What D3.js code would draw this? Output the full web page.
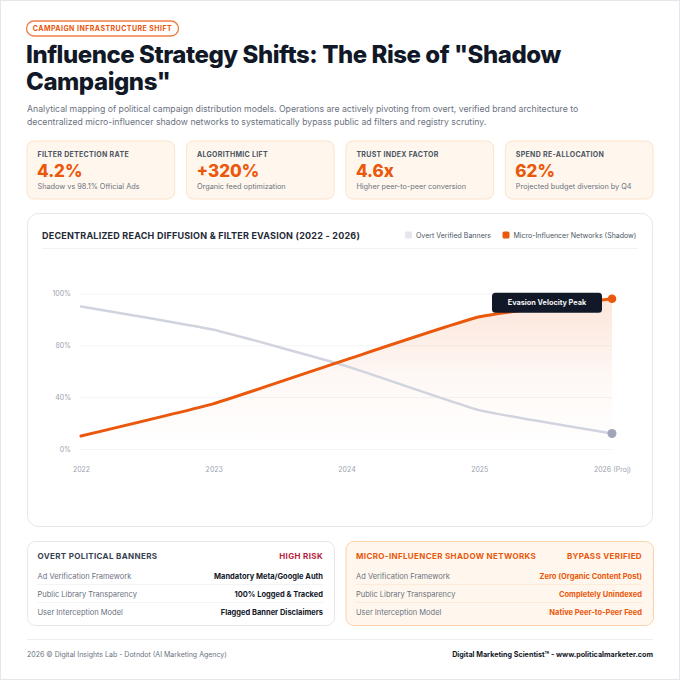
<!DOCTYPE html>
<html>
<head>
<meta charset="utf-8">
<script src="https://cdn.jsdelivr.net/npm/d3@7"></script>
<style>
  html, body { margin: 0; padding: 0; background: #ffffff; }
  svg { display: block; font-family: Inter, "Noto Sans", sans-serif; }
</style>
</head>
<body>
<svg id="chart" width="680" height="680"></svg>
<script>
// ---------- DATA ----------
const years = ["2022", "2023", "2024", "2025", "2026 (Proj)"];
const overtValues = [95, 86, 64, 30, 12];
const shadowValues = [10, 35, 69, 91, 98];
const yTickValues = [0, 40, 80, 100];
const seriesNames = ["Overt Verified Banners", "Micro-Influencer Networks (Shadow)"];

const kpiLabels = ["FILTER DETECTION RATE", "ALGORITHMIC LIFT", "TRUST INDEX FACTOR", "SPEND RE-ALLOCATION"];
const kpiValues = ["4.2%", "+320%", "4.6x", "62%"];
const kpiNotes = ["Shadow vs 98.1% Official Ads", "Organic feed optimization", "Higher peer-to-peer conversion", "Projected budget diversion by Q4"];

const rowLabels = ["Ad Verification Framework", "Public Library Transparency", "User Interception Model"];
const overtRows = ["Mandatory Meta/Google Auth", "100% Logged & Tracked", "Flagged Banner Disclaimers"];
const shadowRows = ["Zero (Organic Content Post)", "Completely Unindexed", "Native Peer-to-Peer Feed"];

// ---------- STYLE ----------
const ORANGE = "#ea580c";
const DARK = "#111827";
const svg = d3.select("#chart");

svg.append("rect").attr("x", 0.5).attr("y", 0.5).attr("width", 679).attr("height", 679)
  .attr("fill", "#ffffff").attr("stroke", "#e5e7eb");

// ---------- HEADER ----------
svg.append("rect").attr("x", 26.5).attr("y", 21).attr("width", 152).attr("height", 15).attr("rx", 7.5)
  .attr("fill", "#fff").attr("stroke", "#ef7d45").attr("stroke-width", 1.3);
svg.append("text").attr("x", 102.5).attr("y", 31.4).attr("text-anchor", "middle")
  .attr("font-size", 7).attr("font-weight", 700).attr("letter-spacing", 0.45).attr("fill", ORANGE)
  .text("CAMPAIGN INFRASTRUCTURE SHIFT");

svg.append("text").attr("x", 26).attr("y", 63.3).attr("font-size", 24).attr("font-weight", 800)
  .attr("fill", DARK).attr("letter-spacing", -0.45)
  .text('Influence Strategy Shifts: The Rise of "Shadow');
svg.append("text").attr("x", 26).attr("y", 89.8).attr("font-size", 24).attr("font-weight", 800)
  .attr("fill", DARK).attr("letter-spacing", -0.45)
  .text('Campaigns"');

const sub = svg.append("text").attr("font-size", 8.7).attr("fill", "#6b7280");
sub.append("tspan").attr("x", 27).attr("y", 111.5).text("Analytical mapping of political campaign distribution models. Operations are actively pivoting from overt, verified brand architecture to");
sub.append("tspan").attr("x", 27).attr("y", 124.5).text("decentralized micro-influencer shadow networks to systematically bypass public ad filters and registry scrutiny.");

// ---------- KPI CARDS ----------
const kpiX = d3.scaleBand().domain(d3.range(kpiLabels.length)).range([27, 653]).paddingInner(0.074);
kpiLabels.forEach((lab, i) => {
  const g = svg.append("g").attr("transform", `translate(${kpiX(i)},141)`);
  g.append("rect").attr("x", 0).attr("y", 0).attr("width", kpiX.bandwidth()).attr("height", 58).attr("rx", 7)
    .attr("fill", "#fff7ed").attr("stroke", "#fde3c8").attr("stroke-width", 1);
  g.append("text").attr("x", 10.5).attr("y", 16.3).attr("font-size", 7).attr("font-weight", 700)
    .attr("letter-spacing", 0.3).attr("fill", "#4b5563").text(lab);
  g.append("text").attr("x", 10).attr("y", 35.7).attr("font-size", 17).attr("font-weight", 800)
    .attr("fill", ORANGE).text(kpiValues[i]);
  g.append("text").attr("x", 10.5).attr("y", 47.8).attr("font-size", 7.3).attr("fill", "#6b7280").text(kpiNotes[i]);
});

// ---------- CHART CARD ----------
svg.append("rect").attr("x", 27.5).attr("y", 213.5).attr("width", 625).attr("height", 313).attr("rx", 11)
  .attr("fill", "#fff").attr("stroke", "#e5e7eb");
svg.append("text").attr("x", 42).attr("y", 238.5).attr("font-size", 9).attr("font-weight", 700)
  .attr("letter-spacing", 0.22).attr("fill", "#1f2937")
  .text("DECENTRALIZED REACH DIFFUSION & FILTER EVASION (2022 - 2026)");
svg.append("line").attr("x1", 42).attr("x2", 638).attr("y1", 248.5).attr("y2", 248.5)
  .attr("stroke", "#f1f2f4");

// legend
const legendColors = ["#e5e7eb", ORANGE];
const legendX = [405, 502.5];
seriesNames.forEach((n, i) => {
  svg.append("rect").attr("x", legendX[i]).attr("y", 231.5).attr("width", 7).attr("height", 7).attr("rx", 1.5)
    .attr("fill", legendColors[i]);
  svg.append("text").attr("x", legendX[i] + 11).attr("y", 237.8).attr("font-size", 7)
    .attr("fill", "#4b5563").text(n);
});

// scales
const plotLeft = 81, plotRight = 612, plotTop = 293.5, plotBottom = 449;
const x = d3.scalePoint().domain(years).range([plotLeft, plotRight]);
const y = d3.scaleLinear().domain(yTickValues)
  .range(yTickValues.map((d, i) => plotBottom - i * (plotBottom - plotTop) / (yTickValues.length - 1)));

// grid
const yAxis = d3.axisLeft(y).tickValues(yTickValues).tickFormat(d => d + "%")
  .tickSize(-(plotRight - plotLeft)).tickPadding(10);
const yg = svg.append("g").attr("transform", `translate(${plotLeft},0)`).call(yAxis);
yg.select(".domain").remove();
yg.selectAll(".tick line").attr("stroke", "#f3f4f6");
yg.selectAll(".tick text").attr("font-size", 7).attr("fill", "#9ca3af").attr("font-family", "Inter").attr("dy", "0.32em");

const xAxis = d3.axisBottom(x).tickSize(0).tickPadding(0);
const xg = svg.append("g").attr("transform", `translate(0,${471.5})`).call(xAxis);
xg.select(".domain").remove();
xg.selectAll(".tick text").attr("font-size", 7).attr("fill", "#9ca3af").attr("font-family", "Inter").attr("dy", 0);

// gradient
const defs = svg.append("defs");
const grad = defs.append("linearGradient").attr("id", "shadowFill").attr("gradientUnits", "userSpaceOnUse")
  .attr("x1", 0).attr("x2", 0).attr("y1", plotTop).attr("y2", plotBottom);
grad.append("stop").attr("offset", 0).attr("stop-color", ORANGE).attr("stop-opacity", 0.16);
grad.append("stop").attr("offset", 0.55).attr("stop-color", ORANGE).attr("stop-opacity", 0.04);
grad.append("stop").attr("offset", 1).attr("stop-color", ORANGE).attr("stop-opacity", 0);

const curve = d3.curveCardinal.tension(0.65);
const area = d3.area().x((d, i) => x(years[i])).y0(plotBottom).y1(d => y(d)).curve(curve);
const line = d3.line().x((d, i) => x(years[i])).y(d => y(d)).curve(curve);

svg.append("path").datum(shadowValues).attr("d", area).attr("fill", "url(#shadowFill)");
svg.append("path").datum(overtValues).attr("d", line).attr("fill", "none")
  .attr("stroke", "#d1d3de").attr("stroke-width", 2.4).attr("stroke-linecap", "round");
svg.append("path").datum(shadowValues).attr("d", line).attr("fill", "none")
  .attr("stroke", ORANGE).attr("stroke-width", 3).attr("stroke-linecap", "round");

const last = years.length - 1;
svg.append("circle").attr("cx", x(years[last])).attr("cy", y(overtValues[last])).attr("r", 4.5).attr("fill", "#a3a5b8");
svg.append("circle").attr("cx", x(years[last])).attr("cy", y(shadowValues[last])).attr("r", 4.3).attr("fill", ORANGE);

// annotation
const ax = x(years[last]), ay = y(shadowValues[last]);
svg.append("rect").attr("x", ax - 120).attr("y", ay - 6).attr("width", 110).attr("height", 20).attr("rx", 3.5)
  .attr("fill", "#111827");
svg.append("text").attr("x", ax - 65).attr("y", ay + 6.6).attr("text-anchor", "middle")
  .attr("font-size", 7.3).attr("font-weight", 700).attr("fill", "#f3f4f6").text("Evasion Velocity Peak");

// ---------- COMPARISON CARDS ----------
function card(x0, width, opts, values) {
  svg.append("rect").attr("x", x0 + 0.5).attr("y", 541.5).attr("width", width).attr("height", 84).attr("rx", 8)
    .attr("fill", opts.bg).attr("stroke", opts.border);
  const l = x0 + 10.5, r = x0 + width - 11;
  svg.append("text").attr("x", l).attr("y", 559.3).attr("font-size", 8).attr("font-weight", 700)
    .attr("letter-spacing", 0.35).attr("fill", opts.headColor).text(opts.head);
  svg.append("text").attr("x", r).attr("y", 559.3).attr("text-anchor", "end").attr("font-size", 8)
    .attr("font-weight", 700).attr("letter-spacing", 0.35).attr("fill", opts.tagColor).text(opts.tag);
  rowLabels.forEach((lab, i) => {
    const yy = 579 + i * 18;
    svg.append("text").attr("x", l).attr("y", yy).attr("font-size", 7.5).attr("fill", "#6b7280").text(lab);
    svg.append("text").attr("x", r).attr("y", yy).attr("text-anchor", "end").attr("font-size", 7.5)
      .attr("font-weight", 700).attr("fill", opts.valColor).text(values[i]);
    if (i < rowLabels.length - 1) {
      svg.append("line").attr("x1", l).attr("x2", r).attr("y1", yy + 5.5).attr("y2", yy + 5.5)
        .attr("stroke", opts.sep);
    }
  });
}
card(27, 307, { bg: "#ffffff", border: "#e5e7eb", head: "OVERT POLITICAL BANNERS", headColor: "#374151",
  tag: "HIGH RISK", tagColor: "#b91c3c", valColor: "#111827", sep: "#f3f4f6" }, overtRows);
card(345.5, 307.5, { bg: "#fff7ed", border: "#fcd3ad", head: "MICRO-INFLUENCER SHADOW NETWORKS", headColor: ORANGE,
  tag: "BYPASS VERIFIED", tagColor: ORANGE, valColor: ORANGE, sep: "#fdebd8" }, shadowRows);

// ---------- FOOTER ----------
svg.append("line").attr("x1", 27).attr("x2", 653).attr("y1", 639.5).attr("y2", 639.5).attr("stroke", "#eceef1");
svg.append("text").attr("x", 27).attr("y", 657).attr("font-size", 7).attr("fill", "#6b7280")
  .text("2026 © Digital Insights Lab - Dotndot (AI Marketing Agency)");
svg.append("text").attr("x", 653).attr("y", 657).attr("text-anchor", "end").attr("font-size", 7.2)
  .attr("font-weight", 700).attr("fill", "#111827").text("Digital Marketing Scientist™ - www.politicalmarketer.com");
</script>
</body>
</html>
